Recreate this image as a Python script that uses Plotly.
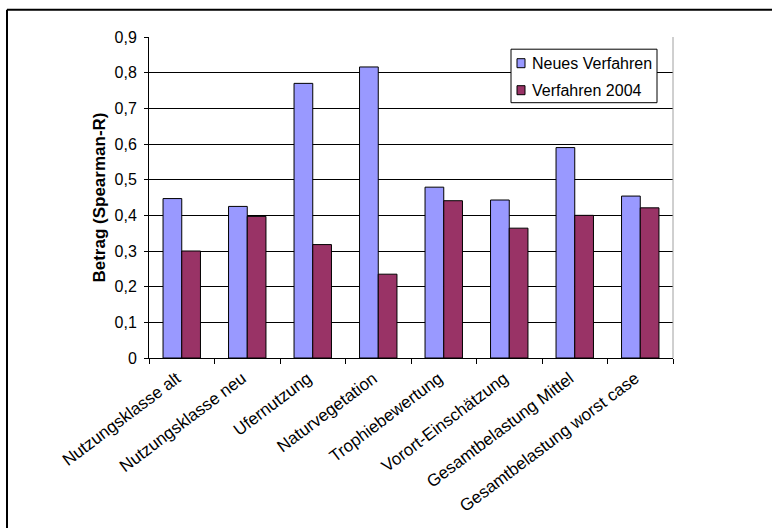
import plotly.graph_objects as go

categories = [
    "Nutzungsklasse alt",
    "Nutzungsklasse neu",
    "Ufernutzung",
    "Naturvegetation",
    "Trophiebewertung",
    "Vorort-Einschätzung",
    "Gesamtbelastung Mittel",
    "Gesamtbelastung worst case",
]
series_names = ["Neues Verfahren", "Verfahren 2004"]
series_colors = ["#9999FF", "#993366"]
neues_verfahren = [0.447, 0.425, 0.770, 0.816, 0.479, 0.443, 0.590, 0.454]
verfahren_2004 = [0.300, 0.397, 0.318, 0.235, 0.441, 0.364, 0.400, 0.421]

y_tick_vals = [0, 0.1, 0.2, 0.3, 0.4, 0.5, 0.6, 0.7, 0.8, 0.9]
y_tick_text = ["0", "0,1", "0,2", "0,3", "0,4", "0,5", "0,6", "0,7", "0,8", "0,9"]

FONT = "Arial, Liberation Sans, sans-serif"
FS = 16

fig = go.Figure()
for name, color, values in zip(series_names, series_colors,
                               [neues_verfahren, verfahren_2004]):
    fig.add_trace(go.Bar(
        name=name, x=categories, y=values,
        marker=dict(color=color, line=dict(color="#000000", width=1)),
    ))

# plot-area pixel geometry in the 772x528 page
L, R, T, B = 149, 673, 37.3, 358.3
W, H = R - L, B - T


def px_x(p):
    return (p - L) / W


def px_y(p):
    return (B - p) / H


shapes = [
    # right edge of plot area
    dict(type="line", xref="paper", yref="paper", x0=1, x1=1, y0=0, y1=1,
         line=dict(color="#A0A0A0", width=1)),
    # outer chart frame (top and left edges)
    dict(type="line", xref="paper", yref="paper",
         x0=px_x(7), x1=px_x(800), y0=px_y(10), y1=px_y(10),
         line=dict(color="#000000", width=2)),
    dict(type="line", xref="paper", yref="paper",
         x0=px_x(7), x1=px_x(7), y0=px_y(10), y1=px_y(560),
         line=dict(color="#000000", width=2)),
    # legend frame
    dict(type="rect", xref="paper", yref="paper",
         x0=px_x(511), x1=px_x(657), y0=px_y(49.5), y1=px_y(103),
         fillcolor="white", line=dict(color="#000000", width=1), layer="above"),
]
annotations = []
for i, (name, color) in enumerate(zip(series_names, series_colors)):
    cy = 63.5 + 27 * i
    shapes.append(dict(
        type="rect", xref="paper", yref="paper",
        x0=px_x(517), x1=px_x(525), y0=px_y(cy - 4.5), y1=px_y(cy + 4.5),
        fillcolor=color, line=dict(color="#000000", width=1), layer="above"))
    annotations.append(dict(
        text=name, xref="paper", yref="paper", x=px_x(530), y=px_y(cy),
        xanchor="left", yanchor="middle", showarrow=False,
        font=dict(family=FONT, size=FS, color="#000000")))

fig.update_layout(
    width=772, height=528,
    margin=dict(l=L, r=772 - R, t=T, b=528 - B),
    paper_bgcolor="white", plot_bgcolor="white",
    font=dict(family=FONT, size=FS, color="#000000"),
    barmode="group", bargap=1.5 / 3.5, bargroupgap=0,
    showlegend=False,
    xaxis=dict(
        type="category", showgrid=False, showline=True,
        linecolor="#000000", linewidth=1,
        ticks="outside", ticklen=5, tickcolor="#000000",
        tickson="boundaries", tickangle=-37,
        ticklabelshift=-5, ticklabelstandoff=3,
        tickfont=dict(family=FONT, size=17),
    ),
    yaxis=dict(
        range=[0, 0.9], tickvals=y_tick_vals, ticktext=y_tick_text,
        showgrid=True, gridcolor="#000000", gridwidth=1,
        showline=True, linecolor="#000000", linewidth=1,
        ticks="outside", ticklen=4, tickcolor="#000000",
        ticklabelstandoff=4,
        tickfont=dict(family=FONT, size=FS), zeroline=False,
        title=dict(text="<b>Betrag (Spearman-R)</b>",
                   font=dict(family=FONT, size=17), standoff=4),
    ),
    shapes=shapes,
    annotations=annotations,
)

fig.write_html("out.html")
